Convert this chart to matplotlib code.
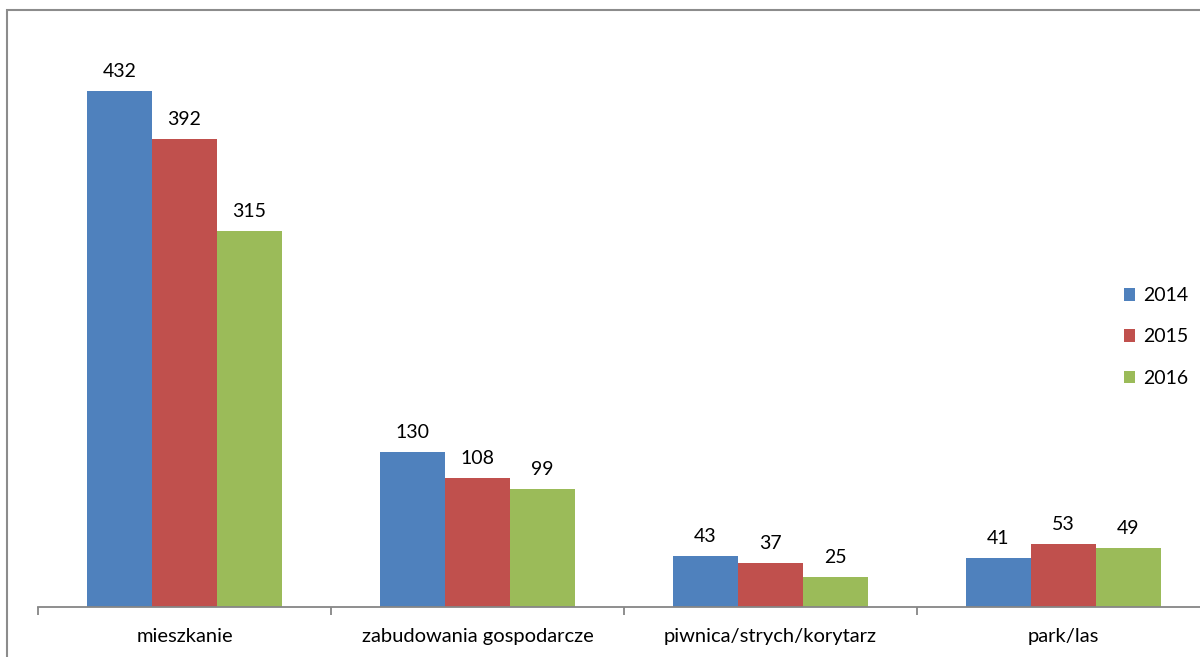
import matplotlib.pyplot as plt
import numpy as np
from matplotlib.patches import Rectangle

# dane
kategorie = ["mieszkanie", "zabudowania gospodarcze", "piwnica/strych/korytarz", "park/las"]
lata = ["2014", "2015", "2016"]
v2014 = [432, 130, 43, 41]
v2015 = [392, 108, 37, 53]
v2016 = [315, 99, 25, 49]
kolory = ["#4F81BD", "#C0504D", "#9BBB59"]

plt.rcParams['font.family'] = ['Lato', 'DejaVu Sans']

W, H = 1200, 657
fig = plt.figure(figsize=(W / 100, H / 100), dpi=100)

# ramka wykresu (przycieta z prawej i od dolu)
fig.patches.append(Rectangle((7 / W, -0.1), 1.2, 1 - 10 / H + 0.1, transform=fig.transFigure,
                             fill=False, edgecolor="#8C8C8C", linewidth=1.5))

x0, x1 = 38, 38 + 4 * 293
y0 = 50
ax = fig.add_axes([x0 / W, y0 / H, (x1 - x0) / W, 597 / H])

x = np.arange(len(kategorie))
w = 65 / 293
for i, (vals, lab) in enumerate(zip([v2014, v2015, v2016], lata)):
    bars = ax.bar(x + (i - 1) * w, vals, w, color=kolory[i], label=lab)
    for b, v in zip(bars, vals):
        ax.annotate(str(v), (b.get_x() + b.get_width() / 2, v), xytext=(0, 8),
                    textcoords="offset points", ha="center", va="bottom", fontsize=14)

ax.set_xlim(-0.5, 3.5)
ax.set_ylim(0, 500)
for s in ["top", "right", "left"]:
    ax.spines[s].set_visible(False)
ax.spines["bottom"].set_color("#868686")
ax.spines["bottom"].set_linewidth(1.3)
ax.set_yticks([])

ax.set_xticks(np.arange(-0.5, 4.0, 1.0))
ax.set_xticklabels([])
ax.tick_params(axis="x", which="major", length=6, color="#868686", width=1.3, direction="out")
ax.set_xticks(x, minor=True)
ax.set_xticklabels(kategorie, minor=True, fontsize=14.5)
ax.tick_params(axis="x", which="minor", length=0, pad=15)

fig.legend(loc="center left", bbox_to_anchor=(1106 / W, 1 - 337 / H), frameon=False,
           fontsize=14, handlelength=0.6, handleheight=0.6, handletextpad=0.4,
           labelspacing=1.25)

fig.savefig("out.png", dpi=100)
